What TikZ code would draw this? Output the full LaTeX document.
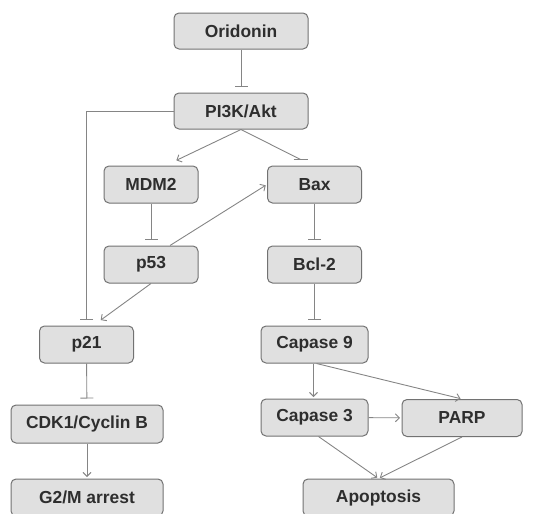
\documentclass[tikz,border=0pt]{standalone}
\usepackage{fontspec}
\setmainfont{Liberation Sans}
\usetikzlibrary{arrows.meta}
\definecolor{boxfill}{HTML}{E0E0E0}
\definecolor{boxline}{HTML}{727272}
\definecolor{linkgray}{HTML}{858585}
\definecolor{txtgray}{HTML}{2E2E2E}

\begin{document}
\begin{tikzpicture}[x=1pt,y=-1pt,font=\fontsize{17.4}{20}\selectfont\bfseries,
  pbox/.style={draw=boxline,line width=1pt,rounded corners=5pt,fill=boxfill,text=txtgray,inner sep=0pt,minimum height=37pt},
  act/.style={draw=linkgray,line width=0.9pt,-{Straight Barb[length=4pt,width=8pt]},shorten >=1.5pt},
  inh/.style={draw=linkgray,line width=0.9pt,-{Bar[width=13pt,line width=0.9pt]},shorten >=6pt}]
\useasboundingbox (0,0) rectangle (550,514);
\node[pbox,minimum width=134pt,minimum height=36pt] (ori) at (241,31) {Oridonin};
\node[pbox,minimum width=134pt,minimum height=36pt] (pik) at (241,111) {PI3K/Akt};
\node[pbox,minimum width=94pt] (mdm) at (151,184.5) {MDM2};
\node[pbox,minimum width=94pt] (bax) at (314.5,184.5) {Bax};
\node[pbox,minimum width=94pt] (p53) at (151,264.5) {p53};
\node[pbox,minimum width=94pt] (bcl) at (314.5,264.5) {Bcl-2};
\node[pbox,minimum width=94pt] (p21) at (86.5,344.5) {p21};
\node[pbox,minimum width=107pt] (cas9) at (314.5,344.5) {Capase 9};
\node[pbox,minimum width=152pt,minimum height=38pt] (cdk) at (87,424) {CDK1/Cyclin B};
\node[pbox,minimum width=107pt] (cas3) at (314.5,417.5) {Capase 3};
\node[pbox,minimum width=120pt] (parp) at (462,418) {PARP};
\node[pbox,minimum width=152pt] (gtm) at (87,497.5) {G2/M arrest};
\node[pbox,minimum width=151pt] (apo) at (378.5,497.5) {Apoptosis};
% upper part
\draw[inh] (ori) -- (pik);
\draw[inh] (pik.west) -| (p21.north);
\draw[act] (pik.south) -- ([xshift=24pt,yshift=4.5pt]mdm.north);
\coordinate (baxin) at ([xshift=-14pt,yshift=6pt]bax.north);
\draw[draw=linkgray,line width=0.9pt] (pik.south) -- (baxin);
\draw[draw=linkgray,line width=0.9pt] ([xshift=-7pt]baxin) -- ([xshift=7pt]baxin);
\draw[inh] (mdm) -- (p53);
\draw[act] ([xshift=19pt]p53.north) -- (bax.west);
\draw[act] (p53.south) -- ([xshift=13pt,yshift=4.5pt]p21.north);
\draw[inh] (bax) -- (bcl);
\draw[inh] (bcl) -- (cas9);
% lower part
\draw[inh] (p21) -- (cdk);
\draw[act] (cdk) -- (gtm);
\draw[act] ([xshift=-1pt]cas9.south) -- ([xshift=-1pt]cas3.north);
\draw[act] ([xshift=2pt]cas9.south) -- (parp.north);
\draw[act] (cas3) -- (parp);
\draw[act] ([xshift=4pt]cas3.south) -- (apo.north);
\draw[act] (parp.south) -- (apo.north);
\end{tikzpicture}
\end{document}
